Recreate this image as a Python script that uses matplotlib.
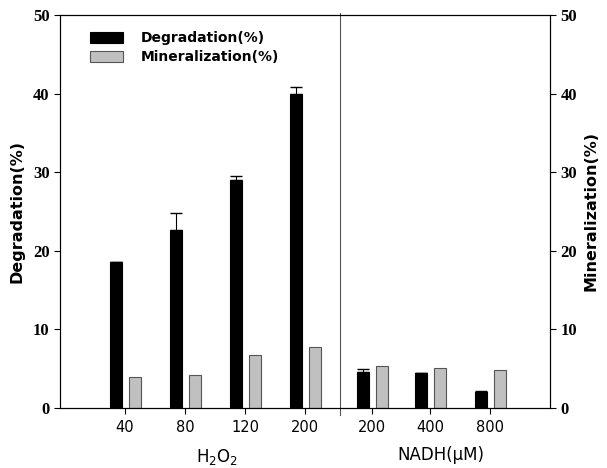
import matplotlib.pyplot as plt
import numpy as np

tick_labels = ["40", "80", "120", "200", "200", "400", "800"]
degradation = [18.6, 22.7, 29.0, 40.0, 4.6, 4.4, 2.0]
degradation_err = [0.0, 2.1, 0.5, 0.8, 0.4, 0.0, 0.2]
mineralization = [4.0, 4.2, 6.7, 7.7, 5.4, 5.1, 4.8]

pos = np.array([1, 2, 3, 4, 5.12, 6.08, 7.08])
w = 0.2

fig = plt.figure(figsize=(6.07, 4.68), dpi=100)
ax = fig.add_axes([60 / 607, 60 / 468, 490 / 607, 393 / 468])

ax.bar(pos - 0.15, degradation, w, color="black", edgecolor="black",
       linewidth=0.8, label="Degradation(%)", zorder=2)
# error bars only upward
ax.errorbar(pos - 0.15, degradation, yerr=[np.zeros(7), degradation_err],
            fmt="none", ecolor="black", elinewidth=0.8, capsize=4, zorder=3)
ax.bar(pos + 0.17, mineralization, w, color="#c0c0c0", edgecolor="#555555",
       linewidth=0.8, label="Mineralization(%)", zorder=2)

ax.set_xlim(-0.08, 8.08)
ax.set_ylim(0, 50)
ax.set_xticks(pos)
ax.set_xticklabels(tick_labels, fontsize=10.5, family="DejaVu Sans")
ax.set_yticks(range(0, 51, 10))
ax.tick_params(axis="y", direction="out", length=4, labelsize=12)
ax.tick_params(axis="x", direction="out", length=4, pad=5)
for t in ax.get_yticklabels():
    t.set_family("Liberation Serif")
    t.set_fontweight("bold")

ax.axvline(4.58, ymin=-0.018, ymax=1.006, color="#555555", linewidth=0.8,
           clip_on=False)

ax.set_ylabel("Degradation(%)", fontsize=11.5, fontweight="bold", labelpad=6)

ax2 = ax.twinx()
ax2.set_ylim(0, 50)
ax2.set_yticks(range(0, 51, 10))
ax2.tick_params(axis="y", direction="out", length=4, labelsize=12)
for t in ax2.get_yticklabels():
    t.set_family("Liberation Serif")
    t.set_fontweight("bold")
ax2.set_ylabel("Mineralization(%)", fontsize=11.5, fontweight="bold",
               labelpad=5)

fig.text(217 / 607, 1 - 457 / 468, "H$_2$O$_2$", ha="center", va="center",
         fontsize=12)
fig.text(441 / 607, 1 - 455 / 468, "NADH(μM)", ha="center", va="center",
         fontsize=12)

ax.legend(loc="upper left", bbox_to_anchor=(0.035, 0.99), frameon=False,
          prop={"weight": "bold", "size": 10}, handlelength=2.4,
          handleheight=0.9, handletextpad=1.3, labelspacing=0.35)

fig.savefig("out.png", dpi=100)
